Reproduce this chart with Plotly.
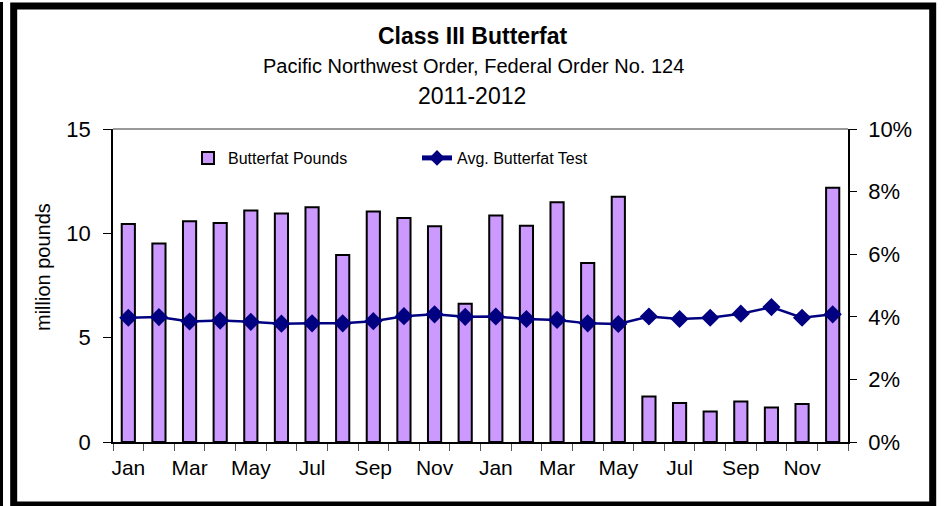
import plotly.graph_objects as go

months = ["Jan", "Feb", "Mar", "Apr", "May", "Jun", "Jul", "Aug", "Sep", "Oct", "Nov", "Dec"] * 2
years = ["2011"] * 12 + ["2012"] * 12
butterfat_pounds = [10.45, 9.51, 10.58, 10.49, 11.09, 10.95, 11.25, 8.96, 11.05, 10.74, 10.34, 6.63,
                    10.85, 10.36, 11.49, 8.58, 11.75, 2.18, 1.87, 1.46, 1.94, 1.65, 1.82, 12.18]
butterfat_test = [3.97, 3.99, 3.85, 3.88, 3.84, 3.78, 3.79, 3.79, 3.86, 4.02, 4.08, 4.00,
                  4.01, 3.93, 3.90, 3.79, 3.77, 4.01, 3.93, 3.97, 4.10, 4.31, 3.97, 4.08]
left_ticks = [0, 5, 10, 15]
right_ticks = [0, 2, 4, 6, 8, 10]

W, H = 945, 506
L, R, T, B = 113, 97, 129, 64
PW, PH = W - L - R, H - T - B


def px(x):
    return (x - L) / PW


def py(y):
    return (H - B - y) / PH


idx = list(range(len(months)))
FONT = "Liberation Sans, Arial, sans-serif"

fig = go.Figure()
fig.add_trace(go.Bar(
    x=idx, y=butterfat_pounds, name="Butterfat Pounds",
    marker=dict(color="#CC99FF", line=dict(color="black", width=2)),
    width=0.43, yaxis="y",
    customdata=[f"{m} {y}" for m, y in zip(months, years)],
    hovertemplate="%{customdata}: %{y}<extra></extra>",
))
fig.add_trace(go.Scatter(
    x=idx, y=butterfat_test, name="Avg. Butterfat Test", yaxis="y2",
    mode="lines+markers",
    line=dict(color="#000080", width=2.5),
    marker=dict(symbol="diamond", size=14, color="#000080"),
))

fig.update_layout(
    width=W, height=H,
    margin=dict(l=L, r=R, t=T, b=B),
    paper_bgcolor="white", plot_bgcolor="white",
    font=dict(family=FONT, color="black"),
    showlegend=True,
    legend=dict(orientation="h", x=px(188), y=py(158), xanchor="left", yanchor="middle",
                font=dict(size=16, family=FONT), bgcolor="rgba(0,0,0,0)",
                entrywidth=184, entrywidthmode="pixels", itemsizing="constant"),
    xaxis=dict(
        range=[-0.5, len(months) - 0.5],
        tickmode="array", tickvals=idx[::2], ticktext=months[::2],
        ticks="", ticklabelstandoff=6,
        tickfont=dict(size=21),
        showline=True, linecolor="black", linewidth=1.5,
        showgrid=False, zeroline=False,
        minor=dict(tick0=-0.5, dtick=1, ticks="outside", ticklen=7, tickcolor="#555555", tickwidth=1),
    ),
    yaxis=dict(
        range=[0, 15], tickvals=left_ticks,
        ticks="outside", ticklen=8, tickcolor="black",
        tickfont=dict(size=22), ticklabelstandoff=8,
        showline=True, linecolor="black", linewidth=1.5,
        showgrid=False, zeroline=False,
    ),
    yaxis2=dict(
        range=[0, 10], tickvals=right_ticks, ticktext=[f"{v}%" for v in right_ticks],
        overlaying="y", side="right",
        ticks="outside", ticklen=7, tickcolor="black",
        tickfont=dict(size=22), ticklabelstandoff=7,
        showline=True, linecolor="black", linewidth=1.5,
        showgrid=False, zeroline=False,
    ),
    shapes=[
        dict(type="line", xref="paper", yref="paper", x0=0, x1=1, y0=1, y1=1,
             line=dict(color="#777777", width=1.5)),
        dict(type="rect", xref="paper", yref="paper", x0=px(13.7), x1=px(932.7), y0=py(505), y1=py(6),
             line=dict(color="black", width=7)),
        dict(type="line", xref="paper", yref="paper", x0=px(1.5), x1=px(1.5), y0=py(506), y1=py(2),
             line=dict(color="black", width=3)),
    ],
    annotations=[
        dict(text="<b>Class III Butterfat</b>", xref="paper", yref="paper", x=px(472), y=py(36),
             xanchor="center", yanchor="middle", showarrow=False, font=dict(size=23)),
        dict(text="Pacific Northwest Order, Federal Order No. 124", xref="paper", yref="paper",
             x=px(473), y=py(66), xanchor="center", yanchor="middle", showarrow=False, font=dict(size=20)),
        dict(text="2011-2012", xref="paper", yref="paper", x=px(472), y=py(96),
             xanchor="center", yanchor="middle", showarrow=False, font=dict(size=23)),
        dict(text="million pounds", xref="paper", yref="paper", x=px(43), y=py(267),
             xanchor="center", yanchor="middle", textangle=-90, showarrow=False, font=dict(size=20)),
    ],
)

fig.write_html("out.html", config={"displayModeBar": False},
               post_script="document.body.style.margin='0';document.body.style.overflow='hidden';")
